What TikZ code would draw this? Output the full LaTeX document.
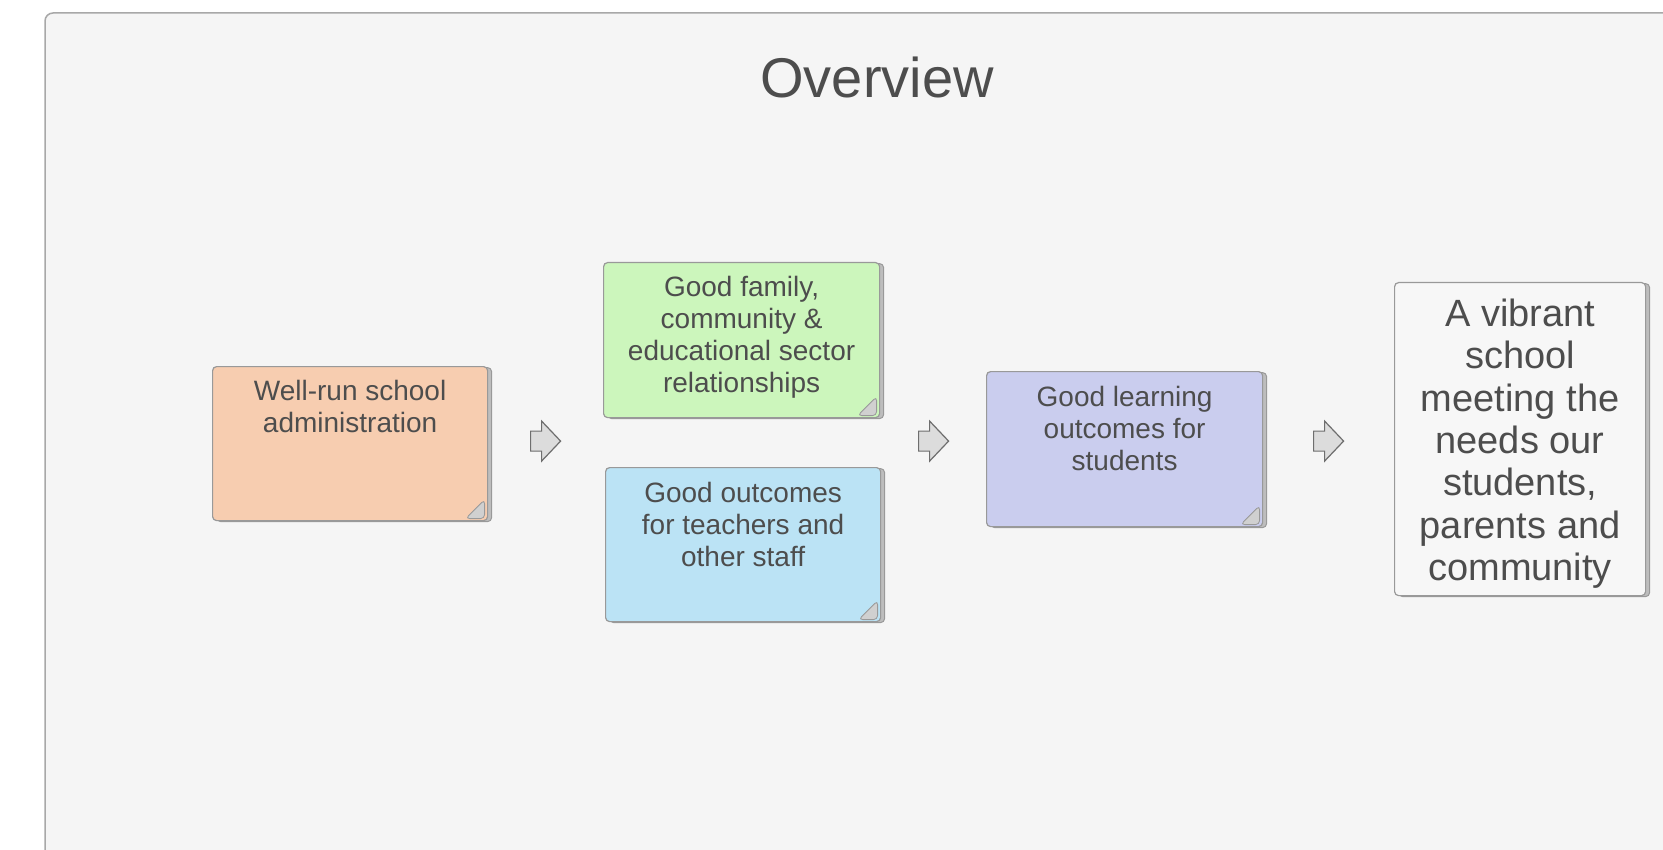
\documentclass[tikz,border=0pt]{standalone}
\usepackage{fontspec}
\setmainfont{Liberation Sans}
\usetikzlibrary{calc,shadows}

\definecolor{panelbg}{HTML}{F5F5F5}
\definecolor{panelline}{HTML}{A8A8A8}
\definecolor{noteline}{HTML}{999999}
\definecolor{shadowgray}{HTML}{BDBDBD}
\definecolor{foldgray}{HTML}{D0D0D0}
\definecolor{textgray}{HTML}{4D4D4D}
\definecolor{arrowfill}{HTML}{DCDCDC}
\definecolor{arrowline}{HTML}{6E6E6E}
\definecolor{noteorange}{HTML}{F7CDB0}
\definecolor{notegreen}{HTML}{CCF6BC}
\definecolor{noteblue}{HTML}{BBE3F5}
\definecolor{notepurple}{HTML}{CACDEE}
\definecolor{notewhite}{HTML}{F7F7F7}

% text of a note: width, height, first baseline, lines
\newcommand{\notetext}[4]{\parbox[c][#2][t]{#1}{\centering\rule{0pt}{#3}#4}}

\tikzset{
  note/.style={draw=noteline, line width=1.2pt, rounded corners=4pt,
    inner sep=0pt, anchor=north west, text=textgray,
    copy shadow={shadow xshift=4pt, shadow yshift=-1pt, fill=shadowgray, draw=noteline, line width=1pt}},
  folded/.style={path picture={\filldraw[fill=foldgray, draw=noteline, line width=0.8pt]
      ([xshift=-3pt,yshift=2pt]path picture bounding box.south east)
      -- ++(0pt,19pt) -- ++(-19pt,-19pt) -- cycle;}},
  smallnote/.style={note, folded, font=\fontsize{28}{32}\selectfont},
  flowarrow/.pic={\draw[fill=arrowfill, draw=arrowline, line width=1.2pt]
    (-15,-10) -- (-4,-10) -- (-4,-20) -- (15,0) -- (-4,20) -- (-4,10) -- (-15,10) -- cycle;}
}

\begin{document}
\begin{tikzpicture}[x=1pt,y=-1pt]
\useasboundingbox[fill=white] (0,0) rectangle (1663,850);
\draw[fill=panelbg, draw=panelline, line width=1.5pt, rounded corners=8pt] (45,13) rectangle (1709,890);

\node[text=textgray, font=\fontsize{56}{60}\selectfont] (title) at (877,77) {Overview};

\node[smallnote, fill=noteorange] (admin) at (212,366)
  {\notetext{275pt}{154pt}{34pt}{Well-run school\\administration}};
\node[smallnote, fill=notegreen] (family) at (603,262)
  {\notetext{276pt}{155pt}{34pt}{Good family,\\community \&\\educational sector\\relationships}};
\node[smallnote, fill=noteblue] (staff) at (605,467)
  {\notetext{275pt}{154pt}{35pt}{Good outcomes\\for teachers and\\other staff}};
\node[smallnote, fill=notepurple] (learning) at (986,371)
  {\notetext{276pt}{155pt}{35pt}{Good learning\\outcomes for\\students}};
\node[note, fill=notewhite, font=\fontsize{38}{42.3}\selectfont] (vibrant) at (1394,282)
  {\notetext{251pt}{313pt}{44pt}{A vibrant\\school\\meeting the\\needs our\\students,\\parents and\\community}};

% arrows between the columns
\path ([yshift=2.5pt]$(admin.east)!0.5!(family.west |- admin.east)$) pic {flowarrow};
\path ([yshift=2.5pt]$(staff.east |- admin.east)!0.5!(learning.west |- admin.east)$) pic {flowarrow};
\path ([yshift=2.5pt]$(learning.east |- admin.east)!0.5!(vibrant.west |- admin.east)$) pic {flowarrow};
\end{tikzpicture}
\end{document}
